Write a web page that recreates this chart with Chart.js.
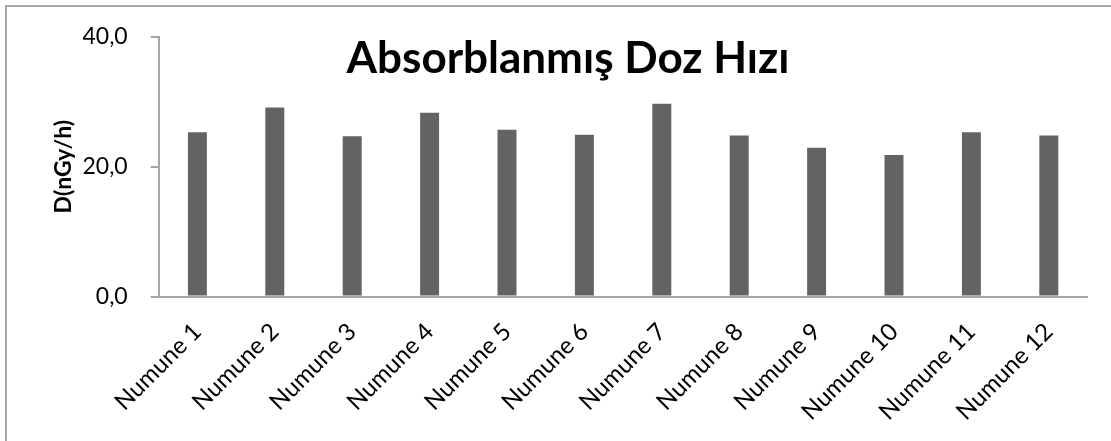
<!DOCTYPE html>
<html>
<head>
<meta charset="utf-8">
<script src="https://cdn.jsdelivr.net/npm/chart.js@4"></script>
<style>
  html, body { margin: 0; padding: 0; background: #fff; overflow: hidden; }
  #wrap { position: absolute; left: 0; top: 0; width: 1111px; height: 441px; }
  #frame {
    position: absolute; left: 5px; top: 5px; width: 1300px; height: 600px;
    border: 2px solid #a6a6a6; pointer-events: none;
  }
</style>
</head>
<body>
<div id="wrap"><canvas id="chart" width="1111" height="441"></canvas></div>
<div id="frame"></div>
<script>
// ---- Data ----------------------------------------------------------------
const categories = ["Numune 1", "Numune 2", "Numune 3", "Numune 4", "Numune 5", "Numune 6",
                    "Numune 7", "Numune 8", "Numune 9", "Numune 10", "Numune 11", "Numune 12"];
const doseRate   = [25.3, 29.1, 24.7, 28.3, 25.7, 24.9, 29.7, 24.8, 22.9, 21.8, 25.3, 24.8];
const yTicks     = [0, 20, 40];
const chartTitle = "Absorblanmış Doz Hızı";
const yTitle     = "D(nGy/h)";

const FONT = "Lato, 'Open Sans', sans-serif";
const AXIS = "#a6a6a6";

// Excel-style title floating over the plot area
const overlayTitle = {
    id: "overlayTitle",
    afterDraw(chart) {
        const ctx = chart.ctx;
        ctx.save();
        ctx.font = "bold 44px " + FONT;
        ctx.fillStyle = "#000";
        ctx.textAlign = "center";
        ctx.textBaseline = "alphabetic";
        ctx.fillText(chartTitle, 568, 73);
        ctx.restore();
    },
};

new Chart(document.getElementById("chart"), {
    type: "bar",
    data: {
        labels: categories,
        datasets: [{
            data: doseRate,
            backgroundColor: "#636363",
            borderWidth: 0,
            categoryPercentage: 1,
            barPercentage: 0.245,
        }],
    },
    options: {
        responsive: false,
        animation: false,
        devicePixelRatio: 1,
        layout: { padding: { left: 0, top: 35, right: 23.5, bottom: 0 } },
        plugins: { legend: { display: false }, tooltip: { enabled: false } },
        scales: {
            x: {
                grid: { display: false },
                border: { display: true, color: AXIS, width: 2 },
                ticks: {
                    color: "#000",
                    font: { family: FONT, size: 24 },
                    minRotation: 45, maxRotation: 45,
                    padding: 13,
                    autoSkip: false,
                },
                afterFit: (s) => { s.height = 441 - 296.5; },
            },
            y: {
                min: 0, max: 40,
                afterBuildTicks: (s) => { s.ticks = yTicks.map((v) => ({ value: v })); },
                grid: { drawOnChartArea: false, drawTicks: true, tickLength: 8, color: AXIS, lineWidth: 2 },
                border: { display: true, color: AXIS, width: 2 },
                ticks: {
                    color: "#000",
                    font: { family: FONT, size: 23 },
                    padding: 23,
                    callback: (v) => v.toFixed(1).replace(".", ","),
                },
                title: {
                    display: true,
                    text: yTitle,
                    color: "#000",
                    font: { family: FONT, size: 23, weight: "bold" },
                    padding: { top: 50, bottom: 0 },
                },
                afterFit: (s) => { s.width = 158.7; },
            },
        },
    },
    plugins: [overlayTitle],
});
</script>
</body>
</html>
